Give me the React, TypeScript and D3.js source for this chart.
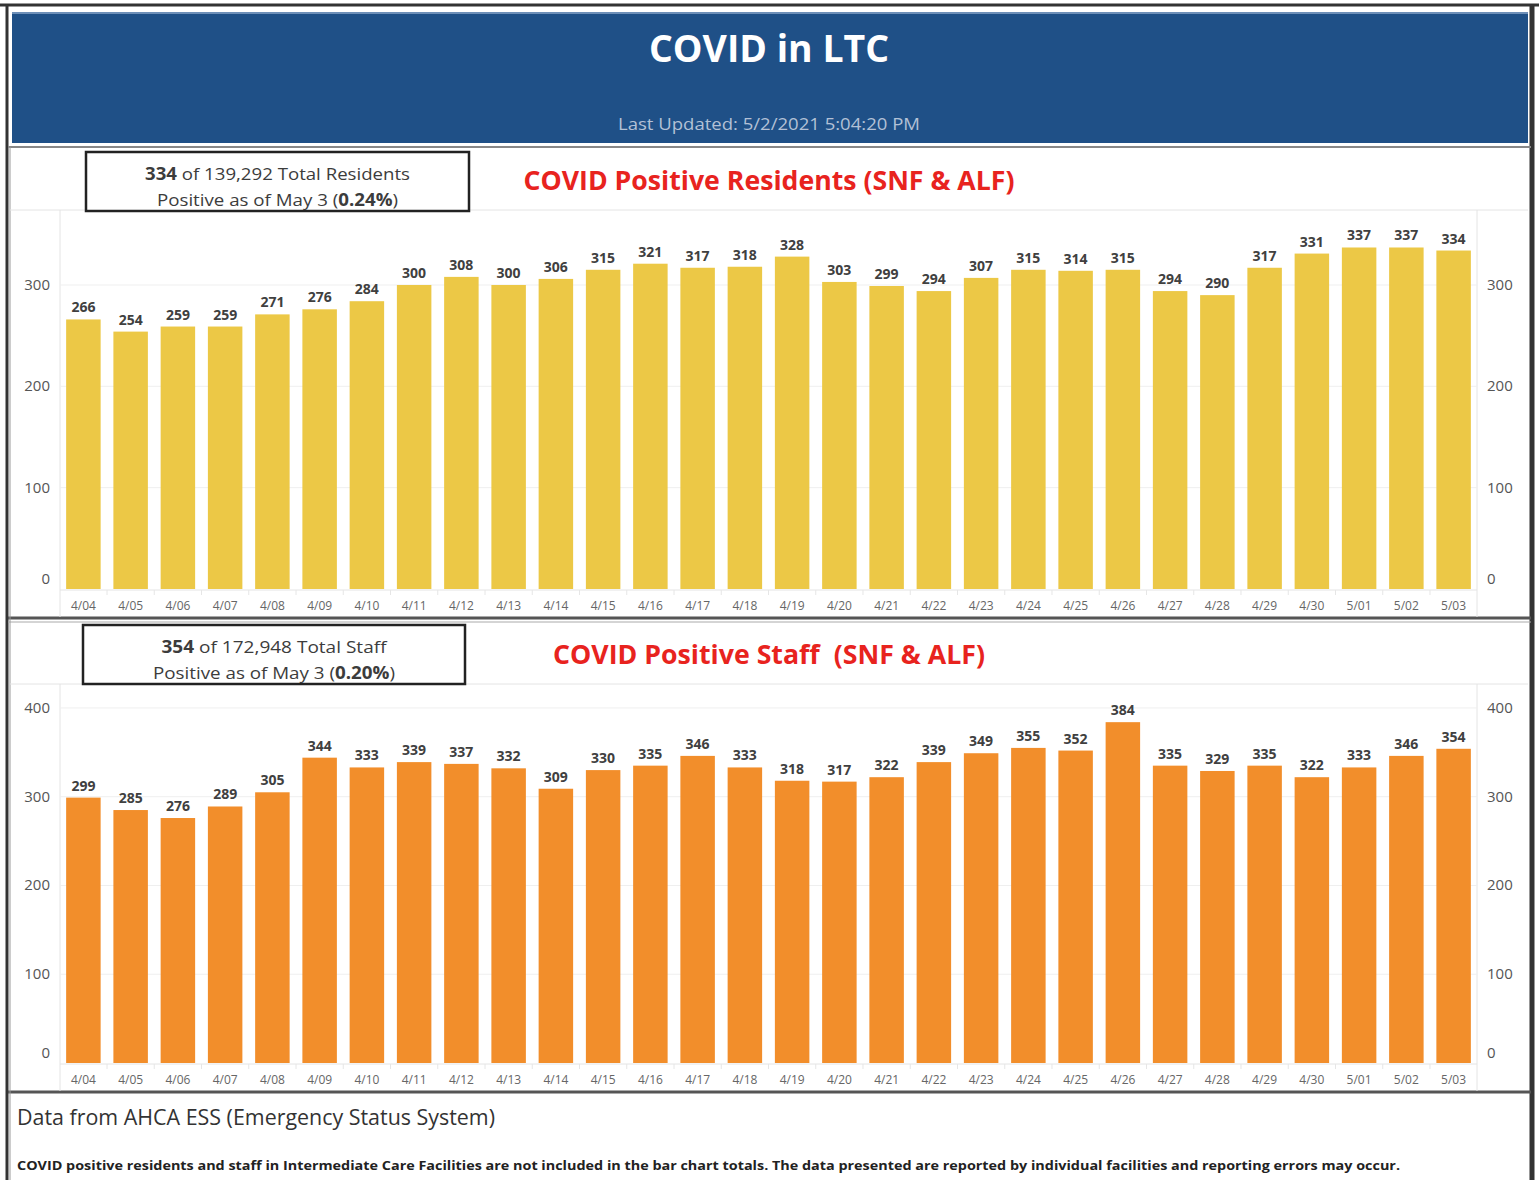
import React from "react";
import * as d3 from "d3";

const dates = ["4/04","4/05","4/06","4/07","4/08","4/09","4/10","4/11","4/12","4/13","4/14","4/15","4/16","4/17","4/18","4/19","4/20","4/21","4/22","4/23","4/24","4/25","4/26","4/27","4/28","4/29","4/30","5/01","5/02","5/03"];
const residents = [266,254,259,259,271,276,284,300,308,300,306,315,321,317,318,328,303,299,294,307,315,314,315,294,290,317,331,337,337,334];
const staff = [299,285,276,289,305,344,333,339,337,332,309,330,335,346,333,318,317,322,339,349,355,352,384,335,329,335,322,333,346,354];
const residentTicks = [0,100,200,300];
const staffTicks = [0,100,200,300,400];

const FONT = "'Open Sans', sans-serif";

type PanelProps = {
  values: number[];
  ticks: number[];
  color: string;
  yTop: number;
  yBase: number;
  domainMax: number;
  boxY: number;
  boxX0: number;
  boxX1: number;
  line1Bold: string;
  line1Rest: string;
  line1Len: number;
  line2Pre: string;
  line2Bold: string;
  line2Post: string;
  line2Len: number;
  title: string;
  titleLen: number;
  titleY: number;
};

function Panel(p: PanelProps) {
  const x = d3.scaleBand<string>().domain(dates).range([60, 1477]).paddingInner(0.27).paddingOuter(0.13);
  const y = d3.scaleLinear().domain([0, p.domainMax]).range([p.yBase, p.yTop]);
  const step = x.step();
  const cx = (p.boxX0 + p.boxX1) / 2;
  return (
    <g>
      <line x1={10} x2={1528} y1={p.yTop} y2={p.yTop} stroke="#e4e4e4" />
      <line x1={60} x2={60} y1={p.yTop} y2={p.yBase + 28} stroke="#e4e4e4" />
      <line x1={1477} x2={1477} y1={p.yTop} y2={p.yBase + 28} stroke="#e4e4e4" />
      <line x1={60} x2={1477} y1={p.yBase + 1} y2={p.yBase + 1} stroke="#e4e4e4" />
      {p.ticks.filter(t => t > 0).map(t => (
        <line key={"g" + t} x1={60} x2={1477} y1={y(t)} y2={y(t)} stroke="#efefef" />
      ))}
      {dates.map((d, i) => i > 0 ? (
        <line key={"s" + d} x1={(x(d) as number) - (step - x.bandwidth()) / 2} x2={(x(d) as number) - (step - x.bandwidth()) / 2} y1={p.yBase + 1} y2={p.yBase + 6} stroke="#e6e6e6" />
      ) : null)}
      {p.values.map((v, i) => (
        <rect key={"b" + i} x={x(dates[i])} width={x.bandwidth()} y={y(v)} height={y(0) - y(v)} fill={p.color} />
      ))}
      {p.values.map((v, i) => (
        <text key={"v" + i} x={(x(dates[i]) as number) + x.bandwidth() / 2} y={y(v) - 7} textAnchor="middle" fontFamily={FONT} fontWeight={700} fontSize={14} fill="#404040">{v}</text>
      ))}
      {p.ticks.map(t => (
        <g key={"t" + t}>
          <text x={50} y={t === 0 ? y(t) - 5 : y(t) + 5} textAnchor="end" fontFamily={FONT} fontSize={15} fill="#555">{t}</text>
          <text x={1487} y={t === 0 ? y(t) - 5 : y(t) + 5} textAnchor="start" fontFamily={FONT} fontSize={15} fill="#555">{t}</text>
        </g>
      ))}
      {dates.map(d => (
        <text key={"x" + d} x={(x(d) as number) + x.bandwidth() / 2} y={p.yBase + 21} textAnchor="middle" fontFamily={FONT} fontSize={12} fill="#666">{d}</text>
      ))}
      <rect x={p.boxX0} y={p.boxY} width={p.boxX1 - p.boxX0} height={59} fill="white" stroke="#222" strokeWidth={2.5} />
      <text x={cx} y={p.boxY + 28} textAnchor="middle" fontFamily={FONT} fontWeight={500} fontSize={17} fill="#3c3c3c" textLength={p.line1Len} lengthAdjust="spacingAndGlyphs">
        <tspan fontWeight={700}>{p.line1Bold}</tspan>{p.line1Rest}
      </text>
      <text x={cx} y={p.boxY + 54} textAnchor="middle" fontFamily={FONT} fontWeight={500} fontSize={17} fill="#3c3c3c" textLength={p.line2Len} lengthAdjust="spacingAndGlyphs">
        {p.line2Pre}<tspan fontWeight={700}>{p.line2Bold}</tspan>{p.line2Post}
      </text>
      <text x={769} y={p.titleY} textAnchor="middle" fontFamily={FONT} fontWeight={700} fontSize={27} fill="#e8231e" textLength={p.titleLen} lengthAdjust="spacingAndGlyphs">{p.title}</text>
    </g>
  );
}

export default function App() {
  return (
    <svg width={1539} height={1180} style={{ position: "absolute", left: 0, top: 0, background: "white" }}>
      <rect x={0} y={0} width={1539} height={1180} fill="white" />
      <line x1={0} x2={1539} y1={5} y2={5} stroke="#333" strokeWidth={3} />
      <line x1={7} x2={7} y1={4} y2={1180} stroke="#333" strokeWidth={3} />
      <line x1={1532} x2={1532} y1={4} y2={1180} stroke="#333" strokeWidth={5} />
      <rect x={12} y={12} width={1516} height={131} fill="#1f5087" />
      <line x1={12} x2={1528} y1={13} y2={13} stroke="#6d8fb8" strokeWidth={2} />
      <text x={769} y={62} textAnchor="middle" fontFamily={FONT} fontWeight={700} fontSize={38} fill="white" textLength={240} lengthAdjust="spacingAndGlyphs">COVID in LTC</text>
      <text x={769} y={130} textAnchor="middle" fontFamily={FONT} fontSize={17} fill="#b3c1d6" textLength={302} lengthAdjust="spacingAndGlyphs">Last Updated: 5/2/2021 5:04:20 PM</text>
      <line x1={8} x2={1531} y1={147} y2={147} stroke="#888" strokeWidth={2} />
      <line x1={8} x2={1531} y1={618} y2={618} stroke="#555" strokeWidth={3} />
      <line x1={8} x2={1531} y1={622} y2={622} stroke="#aaa" strokeWidth={1} />
      <line x1={8} x2={1531} y1={1092} y2={1092} stroke="#555" strokeWidth={3} />
      <line x1={10} x2={10} y1={147} y2={1180} stroke="#999" strokeWidth={1} />
      <Panel values={residents} ticks={residentTicks} color="#ecc846" yTop={210} yBase={589} domainMax={374}
        boxY={152} boxX0={86} boxX1={469}
        line1Bold="334" line1Rest=" of 139,292 Total Residents" line1Len={265}
        line2Pre="Positive as of May 3 (" line2Bold="0.24%" line2Post=")" line2Len={241}
        title="COVID Positive Residents (SNF & ALF)" titleLen={491} titleY={190} />
      <Panel values={staff} ticks={staffTicks} color="#f28e2b" yTop={684} yBase={1063} domainMax={427}
        boxY={625} boxX0={83} boxX1={465}
        line1Bold="354" line1Rest=" of 172,948 Total Staff" line1Len={225}
        line2Pre="Positive as of May 3 (" line2Bold="0.20%" line2Post=")" line2Len={242}
        title={"COVID Positive Staff\u00A0 (SNF & ALF)"} titleLen={432} titleY={664} />
      <text x={17} y={1125} fontFamily={FONT} fontSize={21} fill="#333" textLength={478} lengthAdjust="spacingAndGlyphs">Data from AHCA ESS (Emergency Status System)</text>
      <text x={17} y={1170} fontFamily={FONT} fontWeight={700} fontSize={13} fill="#222" textLength={1383} lengthAdjust="spacingAndGlyphs">COVID positive residents and staff in Intermediate Care Facilities are not included in the bar chart totals. The data presented are reported by individual facilities and reporting errors may occur.</text>
    </svg>
  );
}
